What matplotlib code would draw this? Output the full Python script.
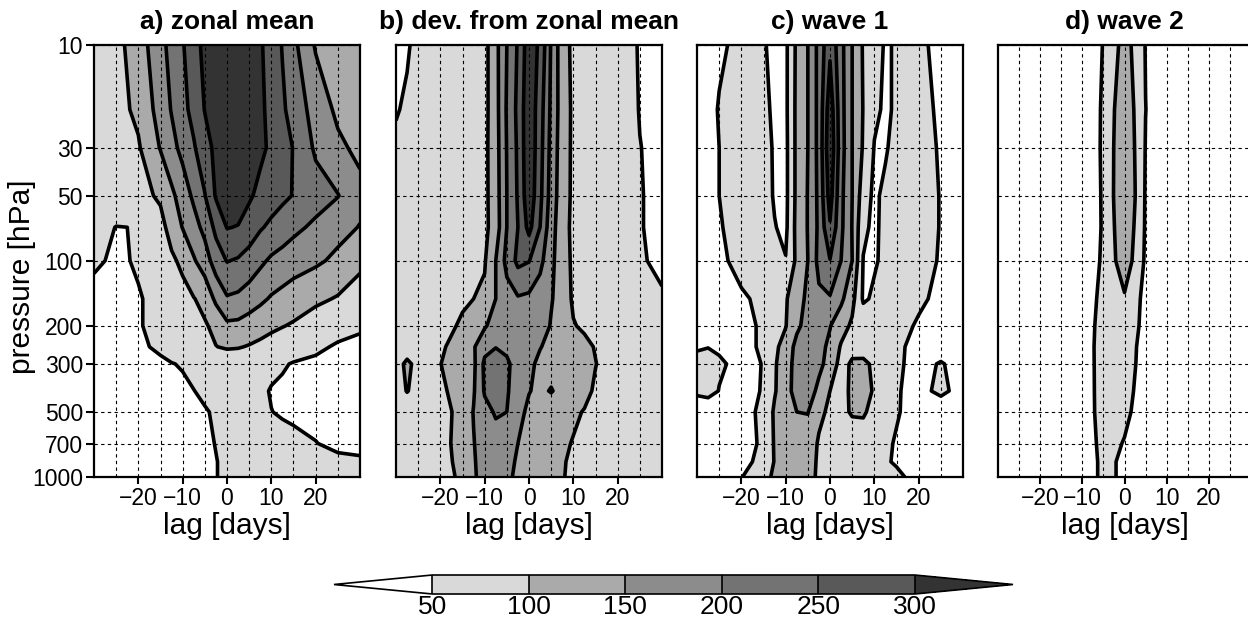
import numpy as np
import matplotlib
matplotlib.use("Agg")
from matplotlib import pyplot as plt
from matplotlib.colors import ListedColormap, BoundaryNorm

plt.rcParams["font.family"] = ["Liberation Sans", "DejaVu Sans"]

# grid of the composites: lag [days] x pressure [hPa]
lags = [-30, -27.5, -25, -20, -15, -12.5, -10, -7.5, -5, -2.5, 0,
        2.5, 5, 7.5, 10, 12.5, 15, 20, 25, 30]
pressure = [10, 20, 30, 50, 70, 100, 150, 200, 250, 300, 400, 500, 700, 850, 1000]

zonal_mean = [
    [75, 80, 85, 125, 185, 216, 246, 282, 312, 330, 338, 338, 328, 305, 282, 247, 212, 145, 130, 120],
    [74, 79, 84, 110, 170, 203, 236, 265, 302, 325, 338, 340, 332, 310, 285, 258, 230, 180, 140, 128],
    [72, 77, 82, 95, 153, 184, 215, 245, 280, 312, 335, 340, 332, 312, 290, 269, 248, 192, 160, 138],
    [70, 75, 80, 85, 107, 140, 172, 210, 248, 305, 330, 325, 308, 285, 272, 260, 248, 222, 202, 165],
    [65, 57, 49, 51, 85, 118, 152, 180, 215, 262, 302, 298, 275, 255, 240, 226, 212, 190, 165, 148],
    [55, 50, 45, 53, 75, 92, 110, 145, 175, 225, 252, 245, 232, 210, 192, 182, 172, 158, 140, 104],
    [40, 42, 44, 48, 58, 70, 85, 98, 115, 160, 195, 190, 175, 160, 145, 135, 125, 110, 96, 92],
    [38, 41, 44, 48, 58, 66, 75, 86, 95, 112, 140, 138, 128, 118, 110, 102, 95, 75, 60, 53],
    [32, 35, 38, 45, 55, 62, 70, 80, 90, 99, 105, 103, 97, 90, 80, 73, 66, 55, 47, 45],
    [25, 27, 30, 38, 45, 49, 52, 58, 63, 68, 70, 70, 68, 63, 58, 53, 48, 45, 43, 42],
    [25, 26, 28, 33, 38, 42, 45, 49.5, 55, 60, 63, 64, 62, 56, 48, 45, 42, 40, 40, 40],
    [20, 22, 24, 28, 34, 37, 40, 44, 48, 53, 57, 58, 57, 54, 50.5, 47, 44, 40, 38, 38],
    [20, 21, 22, 25, 28, 30, 32, 38, 44, 51, 57, 62, 64, 64, 62, 60, 58, 51, 42, 40],
    [20, 21, 22, 25, 28, 30, 32, 38, 44, 49, 56, 60, 63, 64, 65, 65, 64, 62, 58, 55],
    [20, 21, 22, 25, 28, 30, 32, 38, 44, 49, 56, 60, 63, 65, 66, 66, 66, 64, 62, 60],
]

dev_zonal = [
    [40, 47, 58, 64, 70, 78, 85, 135, 200, 255, 330, 290, 195, 120, 90, 82, 75, 64, 48, 42],
    [48, 54, 58, 64, 72, 79, 86, 132, 205, 262, 338, 272, 190, 124, 92, 84, 76, 65, 49, 43],
    [55, 57, 60, 66, 74, 81, 88, 130, 202, 258, 340, 268, 185, 122, 92, 84, 76, 66, 50.5, 44],
    [58, 60, 62, 68, 76, 82, 88, 128, 200, 255, 335, 262, 180, 120, 92, 85, 78, 68, 51, 45],
    [60, 62, 64, 70, 78, 83, 88, 125, 200, 250, 315, 250, 170, 118, 90, 83, 76, 66, 51, 45],
    [62, 64, 66, 72, 82, 88, 96, 150, 215, 262, 252, 215, 160, 125, 90, 82, 75, 64, 52, 46],
    [62, 64, 66, 72, 92, 100, 108, 150, 180, 195, 190, 172, 155, 120, 95, 88, 80, 70, 58, 52],
    [68, 70, 72, 80, 108, 126, 145, 170, 185, 190, 190, 185, 145, 125, 102, 95, 88, 80, 74, 68],
    [72, 74, 78, 92, 125, 145, 185, 198, 190, 170, 162, 152, 138, 128, 118, 108, 98, 78, 72, 68],
    [80, 110, 85, 99, 128, 140, 210, 230, 208, 180, 160, 140, 132, 128, 122, 112, 101, 80, 74, 70],
    [80, 102, 85, 90, 123, 145, 205, 225, 205, 175, 152, 140, 153, 135, 125, 110, 95, 80, 74, 70],
    [68, 71, 74, 80, 118, 152, 185, 205, 200, 165, 140, 128, 120, 112, 106, 98, 90, 78, 72, 68],
    [67, 70, 74, 84, 118, 148, 172, 182, 168, 150, 135, 122, 114, 106, 98, 90, 82, 74, 70, 67],
    [66, 69, 72, 82, 115, 146, 168, 178, 162, 145, 132, 120, 112, 104, 92, 86, 80, 73, 69, 66],
    [65, 67, 70, 80, 110, 145, 165, 175, 160, 140, 130, 118, 110, 103, 90, 84, 78, 72, 68, 65],
]

wave1 = [
    [40, 42, 45, 58, 52, 44, 40, 110, 150, 215, 290, 215, 150, 95, 75, 44, 55, 56, 42, 38],
    [35, 40, 52, 64, 58, 44, 40, 112, 150, 215, 330, 218, 150, 98, 58, 44, 55, 62, 44, 40],
    [32, 38, 50, 62, 66, 45, 38, 112, 150, 215, 340, 220, 150, 95, 48, 44, 70, 66, 46, 42],
    [32, 38, 50, 60, 68, 46, 38, 112, 152, 212, 320, 212, 150, 75, 40, 62, 78, 70, 48, 42],
    [32, 38, 48, 60, 70, 52, 40, 115, 152, 210, 295, 210, 148, 60, 40, 65, 80, 70, 48, 42],
    [35, 38, 42, 62, 72, 60, 52, 110, 150, 215, 248, 200, 150, 48, 46, 58, 80, 68, 46, 40],
    [38, 38, 40, 45, 58, 78, 95, 130, 160, 190, 195, 160, 115, 44, 56, 64, 70, 56, 42, 38],
    [40, 40, 40, 42, 54, 78, 98, 140, 168, 175, 152, 120, 92, 80, 75, 68, 62, 46, 38, 35],
    [46, 49, 46, 42, 54, 90, 118, 165, 175, 165, 140, 95, 82, 75, 68, 62, 55, 42, 38, 35],
    [62, 64, 54, 42, 51, 95, 125, 170, 185, 160, 135, 80, 108, 112, 90, 72, 54, 42, 52, 40],
    [58, 62, 49, 40, 52, 95, 135, 165, 170, 140, 100, 85, 108, 118, 95, 72, 52, 42, 56, 40],
    [22, 25, 30, 40, 56, 108, 130, 150, 152, 110, 92, 88, 105, 108, 80, 65, 52, 40, 32, 28],
    [22, 24, 28, 38, 55, 105, 125, 135, 125, 95, 85, 78, 72, 66, 61, 54, 48, 38, 30, 25],
    [22, 24, 28, 40, 60, 103, 125, 132, 122, 92, 82, 76, 70, 65, 60, 53, 47, 38, 30, 25],
    [20, 22, 25, 48, 85, 108, 125, 130, 120, 90, 80, 75, 70, 66, 62, 59, 56, 40, 30, 25],
]

wave2 = [
    [20, 20, 22, 25, 28, 29, 30, 32, 52, 80, 125, 85, 48, 35, 32, 31, 30, 28, 26, 25],
    [20, 20, 22, 25, 28, 29, 30, 32, 57, 98, 138, 95, 50.5, 36, 32, 31, 30, 28, 26, 25],
    [20, 20, 22, 25, 28, 29, 30, 32, 58, 101, 145, 98, 48, 36, 32, 31, 30, 28, 26, 25],
    [20, 20, 22, 25, 28, 29, 30, 32, 56, 102, 145, 101, 46, 35, 32, 31, 30, 28, 26, 25],
    [20, 20, 22, 25, 28, 29, 30, 33, 55, 98, 140, 95, 45, 35, 32, 31, 30, 28, 26, 25],
    [20, 20, 22, 25, 28, 29, 30, 35, 58, 95, 125, 90, 42, 35, 32, 31, 30, 28, 26, 25],
    [20, 20, 22, 25, 28, 29, 30, 40, 68, 88, 95, 65, 35, 33, 32, 31, 30, 28, 26, 25],
    [20, 20, 22, 25, 28, 29, 31, 46, 68, 78, 76, 56, 40, 34, 32, 31, 30, 28, 26, 25],
    [20, 20, 22, 25, 28, 29, 32, 48, 66, 74, 72, 52, 38, 34, 32, 31, 30, 28, 26, 25],
    [20, 20, 22, 25, 28, 29, 32, 48, 64, 70, 68, 51, 38, 34, 32, 31, 30, 28, 26, 25],
    [20, 20, 22, 25, 28, 29, 32, 48, 62, 66, 62, 48, 37, 34, 32, 31, 30, 28, 26, 25],
    [20, 20, 22, 25, 28, 29, 32, 48, 60, 62, 58, 45, 36, 34, 32, 31, 30, 28, 26, 25],
    [20, 20, 22, 25, 28, 29, 31, 46, 58, 56, 48, 40, 35, 33, 32, 31, 30, 28, 26, 25],
    [20, 20, 22, 25, 28, 29, 30, 45, 56, 52, 42, 38, 34, 32, 31, 30, 29, 27, 25, 24],
    [20, 20, 22, 25, 28, 29, 30, 45, 56, 52, 42, 38, 34, 32, 31, 30, 29, 27, 25, 24],
]

titles = ["a) zonal mean", "b) dev. from zonal mean", "c) wave 1", "d) wave 2"]
levels = [50, 100, 150, 200, 250, 300]
shades = ["#d9d9d9", "#aaaaaa", "#8c8c8c", "#737373", "#595959"]
p_ticks = [10, 30, 50, 100, 200, 300, 500, 700, 1000]
lag_ticks = [-20, -10, 0, 10, 20]
lag_labels = ["\u221220", "\u221210", "0", "10", "20"]
lag_grid = [-25, -15, -5, 5, 15, 25]

cmap = ListedColormap(shades)
cmap.set_under("white")
cmap.set_over("#333333")
norm = BoundaryNorm(levels, cmap.N)

W, H = 1248, 624
fig = plt.figure(figsize=(W / 100, H / 100), dpi=100)

# panel boxes in pixels: left, width
boxes = [(94, 266), (396, 266), (697, 266), (998, 253)]
top, bottom = 44.5, 477

x = np.array(lags)
y = np.log10(pressure)

for i, (data, title) in enumerate(zip([zonal_mean, dev_zonal, wave1, wave2], titles)):
    left, width = boxes[i]
    ax = fig.add_axes([left / W, 1 - bottom / H, width / W, (bottom - top) / H])
    z = np.array(data, dtype=float)
    cf = ax.contourf(x, y, z, levels=levels, cmap=cmap, norm=norm, extend="both")
    ax.contour(x, y, z, levels=levels, colors="black", linewidths=2.6)

    ax.set_xlim(-30, 30)
    ax.set_ylim(3, 1)
    ax.set_xticks(lag_ticks)
    ax.set_xticklabels(lag_labels, fontsize=16.5)
    ax.set_xticks(lag_grid, minor=True)
    ax.set_yticks(np.log10(p_ticks))
    ax.grid(True, which="both", color="black", linestyle=(0, (3, 3)), linewidth=0.8)
    ax.set_axisbelow(False)
    ax.tick_params(axis="x", which="major", direction="out", length=5, width=1.5, pad=2)
    ax.tick_params(axis="x", which="minor", length=0)
    if i == 0:
        ax.set_yticklabels([str(p) for p in p_ticks], fontsize=16.5)
        ax.tick_params(axis="y", direction="out", length=6, width=1.5, pad=2)
        ax.set_ylabel("pressure [hPa]", fontsize=21.5)
        ax.yaxis.set_label_coords(-0.218, 0.462)
    else:
        ax.tick_params(axis="y", length=0, labelleft=False)
    ax.set_xlabel("lag [days]", fontsize=21.5, labelpad=2)
    ax.set_title(title, fontsize=19, fontweight="bold", pad=11)
    for s in ax.spines.values():
        s.set_linewidth(1.6)
        s.set_zorder(5)

# colorbar
cax = fig.add_axes([334 / W, 1 - 594 / H, 679 / W, 19 / H])
cb = fig.colorbar(cf, cax=cax, orientation="horizontal", extendfrac=0.204,
                  drawedges=True)
cb.set_ticks(levels)
cb.ax.tick_params(length=0, pad=1)
for lab in cb.ax.get_xticklabels():
    lab.set_fontsize(19)
cb.outline.set_linewidth(1.2)
cb.dividers.set_linewidth(1.2)

fig.savefig("out.png", dpi=100)
